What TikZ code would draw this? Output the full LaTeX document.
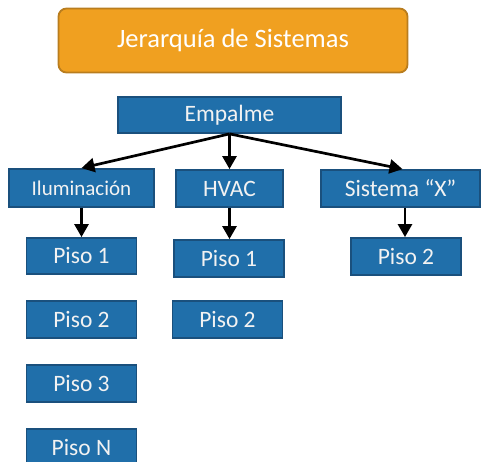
\documentclass[tikz,border=0pt]{standalone}
\usepackage{fontspec}
\setmainfont{Carlito}
\usetikzlibrary{arrows.meta}
\definecolor{boxblue}{RGB}{32,111,170}
\definecolor{boxedge}{RGB}{26,80,125}
\definecolor{titleor}{RGB}{240,160,32}
\definecolor{titleedge}{RGB}{185,125,30}
\definecolor{txt}{RGB}{242,242,242}
\tikzset{
  bluebox/.style={draw=boxedge, fill=boxblue, line width=1.8pt, text=txt, inner sep=0pt,
    font=\fontsize{23.5}{26}\selectfont},
  titlebox/.style={draw=titleedge, fill=titleor, line width=1.8pt, rounded corners=8pt, text=white,
    inner sep=0pt, font=\fontsize{26.5}{30}\selectfont},
  conn/.style={line width=2.7pt, -{Triangle[width=14pt,length=13pt]}}
}
\begin{document}
\begin{tikzpicture}[x=1pt,y=-1pt]
\useasboundingbox (0,0) rectangle (483,462);
\clip (0,0) rectangle (483,462);
\node[titlebox, minimum width=349pt, minimum height=64pt] (title) at (233,40.5) {Jerarquía de Sistemas};
\node[bluebox, minimum width=223pt, minimum height=36pt] (emp) at (229.5,115) {Empalme};
\node[bluebox, minimum width=145pt, minimum height=38pt, font=\fontsize{21}{24}\selectfont] (ilu) at (81.5,188) {Iluminación};
\node[bluebox, minimum width=107pt, minimum height=37pt] (hvac) at (229.5,188.5) {HVAC};
\node[bluebox, minimum width=159pt, minimum height=37pt] (six) at (400.5,188.5) {Sistema “X”};
\node[bluebox, minimum width=110pt, minimum height=36pt] (i1) at (81.5,256) {Piso 1};
\node[bluebox, minimum width=110pt, minimum height=37pt] (i2) at (81.5,319.5) {Piso 2};
\node[bluebox, minimum width=110pt, minimum height=37pt] (i3) at (81.5,383.5) {Piso 3};
\node[bluebox, minimum width=110pt, minimum height=37pt] (iN) at (81.5,447.5) {Piso N};
\node[bluebox, minimum width=110pt, minimum height=37pt] (h1) at (229,258.5) {Piso 1};
\node[bluebox, minimum width=110pt, minimum height=37pt] (h2) at (227.5,319.5) {Piso 2};
\node[bluebox, minimum width=110pt, minimum height=37pt] (s2) at (406,256.5) {Piso 2};
\coordinate (s2top) at ([xshift=-1pt]s2.north);
\draw[conn] (emp.south) -- (ilu.north);
\draw[conn] (emp.south) -- (hvac.north);
\draw[conn] (emp.south) -- ([xshift=2pt]six.north);
\draw[conn] (ilu.south) -- (i1.north);
\draw[conn] (hvac.south) -- (hvac.south |- h1.north);
\draw[conn] (six.south -| s2top) -- (s2top);
\end{tikzpicture}
\end{document}
